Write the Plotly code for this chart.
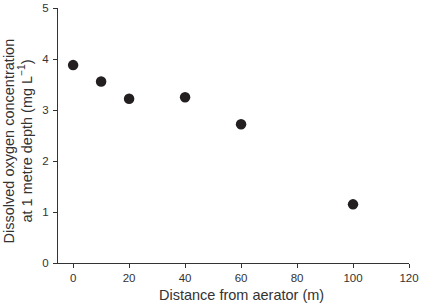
import plotly.graph_objects as go

distance_m = [0, 10, 20, 40, 60, 100]
oxygen_mg_l = [3.88, 3.56, 3.22, 3.25, 2.72, 1.15]
x_ticks = [0, 20, 40, 60, 80, 100, 120]
y_ticks = [0, 1, 2, 3, 4, 5]

FONT = "Liberation Sans, Arial, sans-serif"
INK = "#333333"

fig = go.Figure()
fig.add_trace(go.Scatter(
    x=distance_m, y=oxygen_mg_l, mode="markers",
    marker=dict(size=10.5, color="#231f20"),
    showlegend=False, cliponaxis=False,
))

axis_common = dict(
    showgrid=False, zeroline=False, showline=True, linecolor=INK,
    linewidth=1.3, ticks="outside", ticklen=4, tickwidth=1, tickcolor=INK,
    tickfont=dict(family=FONT, size=11.5, color=INK), automargin=False,
)

fig.update_layout(
    width=423, height=303,
    margin=dict(l=58, r=14, t=8, b=40),
    paper_bgcolor="white", plot_bgcolor="white",
    font=dict(family=FONT, color=INK),
    xaxis=dict(range=[-5.4, 120], tickvals=x_ticks, **axis_common),
    yaxis=dict(range=[0, 5], tickvals=y_ticks, ticklabelstandoff=2, **axis_common),
    annotations=[
        dict(text="Distance from aerator (m)", xref="paper", yref="paper",
             x=0.5 + (60 - 57.3) / 125.4, y=0, yshift=-31.5, showarrow=False,
             xanchor="center", yanchor="middle",
             font=dict(family=FONT, size=14.5, color=INK)),
        dict(text="Dissolved oxygen concentration", xref="paper", yref="paper",
             x=0, y=0.5, xshift=-50, yshift=-6, showarrow=False, textangle=-90,
             xanchor="center", yanchor="middle",
             font=dict(family=FONT, size=14.5, color=INK)),
        dict(text="at 1 metre depth (mg L<sup>−1</sup>)", xref="paper", yref="paper",
             x=0, y=0.5, xshift=-33, yshift=-6, showarrow=False, textangle=-90,
             xanchor="center", yanchor="middle",
             font=dict(family=FONT, size=14.5, color=INK)),
    ],
)

fig.write_html("out.html", config={"displayModeBar": False},
               post_script="document.body.style.margin='0';document.body.style.padding='0';")
